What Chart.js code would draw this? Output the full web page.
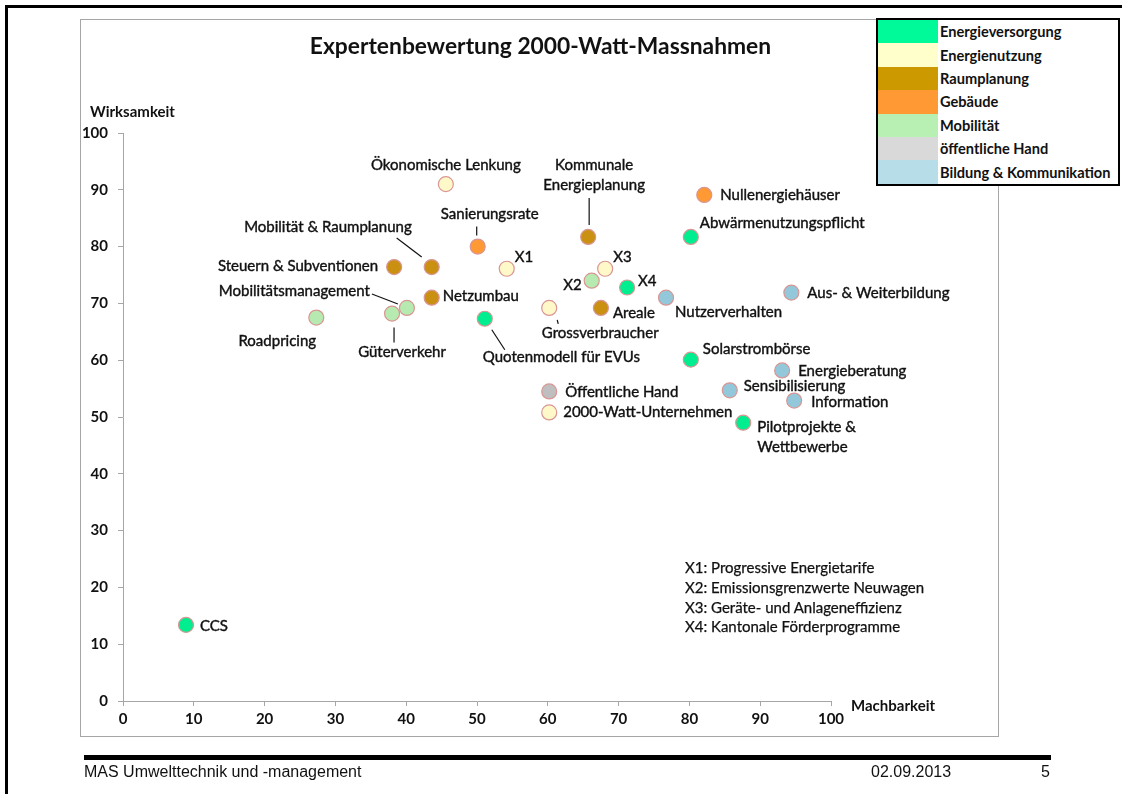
<!DOCTYPE html>
<html>
<head>
<meta charset="utf-8">
<script src="https://cdn.jsdelivr.net/npm/chart.js@4.4.1/dist/chart.umd.min.js"></script>
<style>
  body { margin: 0; background: #fff; font-family: Lato, sans-serif; }
  #page { position: relative; width: 1122px; height: 794px; overflow: hidden; }
  #chart { position: absolute; left: 0; top: 0; }
  .abs { position: absolute; white-space: nowrap; color: #111; }
  .foot { font-family: 'Liberation Sans', Arial, sans-serif; font-size: 16px; top: 763px; }
</style>
</head>
<body>
<div id="page">
  <!-- slide frame -->
  <div class="abs" style="left:5px;top:5px;width:1117px;height:3px;background:#000"></div>
  <div class="abs" style="left:5px;top:5px;width:3px;height:789px;background:#000"></div>
  <!-- chart box -->
  <div class="abs" style="left:80px;top:19px;width:917px;height:716px;border:1px solid #a6a6a6;"></div>
  <canvas id="chart" width="1122" height="794"></canvas>
  <div class="abs" style="left:0;width:1081px;top:31px;text-align:center;font-weight:bold;font-size:22.8px;">Expertenbewertung 2000-Watt-Massnahmen</div>
  <div class="abs" style="left:90px;top:102px;font-weight:bold;font-size:15px;">Wirksamkeit</div>
  <div class="abs" style="left:851px;top:696px;font-weight:bold;font-size:15px;">Machbarkeit</div>
  <div id="notes" class="abs" style="left:685px;top:558px;font-size:15px;line-height:19.8px;-webkit-text-stroke:0.25px #111;"></div>
  <div id="legend" class="abs" style="left:876px;top:18px;width:240px;border:2px solid #000;background:#fff;"></div>
  <!-- footer -->
  <div class="abs" style="left:84px;top:755px;width:967px;height:5px;background:#000"></div>
  <div class="abs foot" style="left:84px;">MAS Umwelttechnik und -management</div>
  <div class="abs foot" style="left:871px;">02.09.2013</div>
  <div class="abs foot" style="left:1041px;">5</div>
</div>
<script>
// categories (legend order)
const categories = ['Energieversorgung', 'Energienutzung', 'Raumplanung', 'Gebäude', 'Mobilität', 'öffentliche Hand', 'Bildung & Kommunikation'];
const legendColors = ['#00FA9A', '#FFFFCC', '#CC9900', '#FF9933', '#B8F0B4', '#D9D9D9', '#B7DDE8'];
const markerColors = ['#00EE90', '#FFF8C8', '#C99012', '#FF9933', '#B6EAB0', '#BFBFBF', '#93C8DA'];

// measures: name, Machbarkeit (x), Wirksamkeit (y), category index
const names = ['Ökonomische Lenkung', 'Kommunale\nEnergieplanung', 'Nullenergiehäuser', 'Abwärmenutzungspflicht', 'Sanierungsrate',
  'X1', 'X3', 'X2', 'X4', 'Areale', 'Nutzerverhalten', 'Grossverbraucher', 'Quotenmodell für EVUs', 'Solarstrombörse',
  'Aus- & Weiterbildung', 'Energieberatung', 'Sensibilisierung', 'Information', 'Pilotprojekte &\nWettbewerbe',
  'Öffentliche Hand', '2000-Watt-Unternehmen', 'CCS', 'Mobilität & Raumplanung', 'Steuern & Subventionen',
  'Mobilitätsmanagement', 'Netzumbau', 'Roadpricing', 'Güterverkehr'];
const machbarkeit = [45.6, 65.7, 82.1, 80.2, 50.1, 54.2, 68.1, 66.2, 71.2, 67.5, 76.7, 60.2, 51.1, 80.2,
  94.4, 93.1, 85.7, 94.8, 87.6, 60.2, 60.2, 8.9, 43.6, 38.3, 40.1, 43.6, 27.3, 38.0];
const wirksamkeit = [91.0, 81.7, 89.1, 81.7, 80.0, 76.1, 76.1, 74.0, 72.8, 69.2, 71.0, 69.2, 67.3, 60.1,
  71.9, 58.2, 54.7, 52.9, 49.0, 54.5, 50.8, 13.4, 76.4, 76.4, 69.2, 71.0, 67.5, 68.2];
const category = [1, 2, 3, 0, 3, 1, 1, 4, 0, 2, 6, 1, 0, 0, 6, 6, 6, 6, 0, 5, 1, 0, 2, 2, 4, 2, 4, 4];

const tickValues = [0, 10, 20, 30, 40, 50, 60, 70, 80, 90, 100];
const notes = ['X1: Progressive Energietarife', 'X2: Emissionsgrenzwerte Neuwagen', 'X3: Geräte- und Anlageneffizienz', 'X4: Kantonale Förderprogramme'];

// label placement relative to marker: [dx, dy, align], leader line [x1, y1, x2, y2] or null
const labelPos = [[0, -19, 'center'], [6, -72, 'center'], [16, 0, 'left'], [9, -14, 'left'], [12, -32, 'center'],
  [8, -12, 'left'], [8, -12, 'left'], [-10, 4, 'right'], [11, -6, 'left'], [12, 5, 'left'], [9, 14, 'left'],
  [51, 25, 'center'], [-2, 38, 'left'], [12, -10, 'left'], [16, 1, 'left'], [16, 1, 'left'], [14, -4, 'left'],
  [17, 2, 'left'], [14, 4, 'left'], [16, 1, 'left'], [14, 0, 'left'], [14, 1, 'left'], [-20, -40, 'right'],
  [-16, -1, 'right'], [-37, -17, 'right'], [11, -2, 'left'], [-39, 24, 'center'], [10, 39, 'center']];
const leaders = [null, [1, -39, 1, -12], null, null, [-1, -20, -1, -11], null, null, null, null, null, null,
  [8, 12, 9, 16], [7, 11, 20, 31], null, null, null, null, null, null, null, null, null, [-35, -29, -10, -10],
  null, [-35, -14, -9, -4], null, null, [2, 14, 2, 29]];

// legend + notes
document.getElementById('legend').innerHTML = categories.map((c, i) =>
  '<div style="display:flex;height:23.4px;align-items:center;font-weight:bold;font-size:14.6px;">' +
  '<div style="width:60px;height:100%;background:' + legendColors[i] + ';margin-right:2px;"></div>' + c + '</div>').join('');
document.getElementById('notes').innerHTML = notes.map(n => '<div>' + n + '</div>').join('');

const points = machbarkeit.map((x, i) => ({ x: x, y: wirksamkeit[i] }));

const labelPlugin = {
  id: 'pointLabels',
  afterDatasetsDraw(chart) {
    const ctx = chart.ctx;
    const meta = chart.getDatasetMeta(0);
    ctx.save();
    ctx.font = '15px Lato';
    ctx.fillStyle = '#111';
    ctx.strokeStyle = '#111';
    ctx.textBaseline = 'middle';
    meta.data.forEach((el, i) => {
      const [dx, dy, align] = labelPos[i];
      ctx.textAlign = align;
      ctx.lineWidth = 0.4;
      names[i].split('\n').forEach((line, k) => {
        ctx.fillText(line, el.x + dx, el.y + dy + k * 20);
        ctx.strokeText(line, el.x + dx, el.y + dy + k * 20);
      });
      const l = leaders[i];
      if (l) {
        ctx.lineWidth = 1.2;
        ctx.beginPath();
        ctx.moveTo(el.x + l[0], el.y + l[1]);
        ctx.lineTo(el.x + l[2], el.y + l[3]);
        ctx.stroke();
      }
    });
    ctx.restore();
  }
};

const axisCommon = {
  type: 'linear',
  min: 0,
  max: 100,
  border: { color: '#a6a6a6', width: 1 },
  grid: { display: true, drawOnChartArea: false, drawTicks: true, tickLength: 5, color: '#a6a6a6' },
  afterBuildTicks: (s) => { s.ticks = tickValues.map(v => ({ value: v })); }
};

new Chart(document.getElementById('chart'), {
  type: 'scatter',
  data: {
    datasets: [{
      data: points,
      backgroundColor: category.map(c => markerColors[c]),
      borderColor: '#D99694',
      borderWidth: 1.2,
      pointRadius: 7.5,
      pointHoverRadius: 7.5
    }]
  },
  options: {
    responsive: false,
    animation: false,
    layout: { padding: { left: 73, top: 133, right: 291, bottom: 63 } },
    plugins: { legend: { display: false }, tooltip: { enabled: false } },
    scales: {
      x: Object.assign({}, axisCommon, {
        ticks: { padding: 4, color: '#111', font: { family: 'Lato', size: 15, weight: 'bold' } },
        afterFit: (s) => { s.height = 30; }
      }),
      y: Object.assign({}, axisCommon, {
        ticks: { padding: 10, color: '#111', font: { family: 'Lato', size: 15, weight: 'bold' } },
        afterFit: (s) => { s.width = 50; }
      })
    }
  },
  plugins: [labelPlugin]
});
</script>
</body>
</html>
